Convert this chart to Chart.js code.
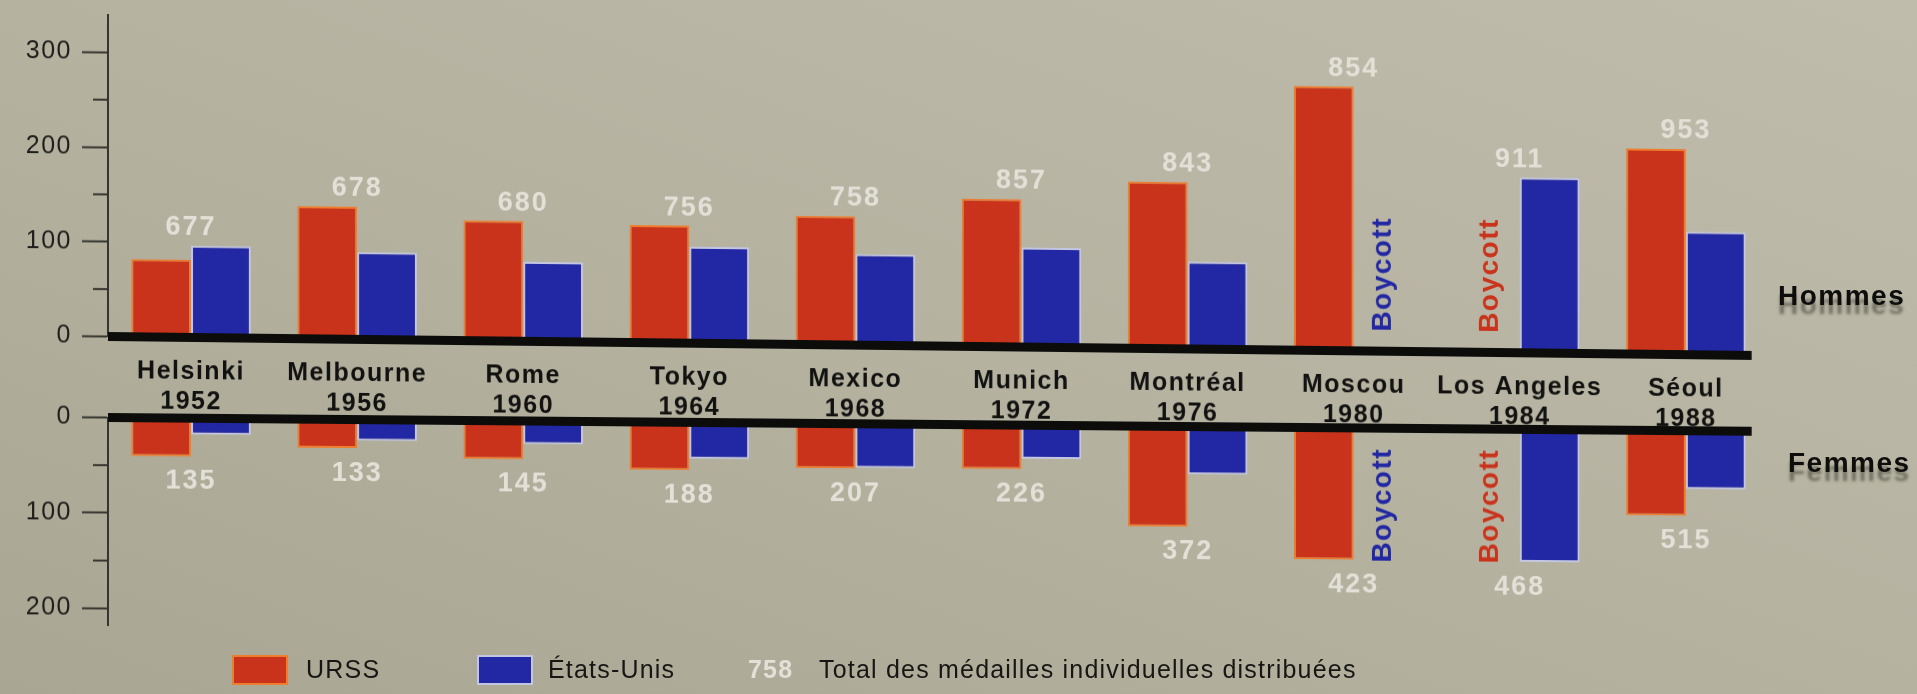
<!DOCTYPE html>
<html lang="fr">
<head>
<meta charset="utf-8">
<title>Médailles individuelles URSS / États-Unis 1952-1988</title>
<script src="https://cdn.jsdelivr.net/npm/chart.js@4.4.1/dist/chart.umd.min.js"></script>
<style>
  html, body { margin: 0; padding: 0; }
  body {
    width: 1917px; height: 694px; overflow: hidden; position: relative;
    background: linear-gradient(to top right, #a9a693 0%, #b4b19f 45%, #bfbcac 100%);
    font-family: 'Liberation Sans', Arial, sans-serif;
  }
  canvas { position: absolute; left: 0; }
  /* la photo est un peu de travers : on penche les lignes de base */
  #hommes { top: 0; transform: skewY(0.66deg); transform-origin: 108px 336.5px; }
  #femmes { top: 400px; transform: skewY(0.48deg); transform-origin: 108px 17.5px; }
  .cote {
    position: absolute; font-weight: bold; font-size: 28px; letter-spacing: 1.5px;
    color: #0d0d0c; line-height: 1; text-shadow: 0 9px 3px rgba(40, 40, 30, .5);
  }
  .case { position: absolute; top: 655px; width: 52px; height: 26px; }
  .txt { position: absolute; top: 654px; line-height: 30px; font-size: 25px; letter-spacing: 1.2px; color: #161613; }
</style>
</head>
<body>
<canvas id="hommes" width="1917" height="430"></canvas>
<canvas id="femmes" width="1917" height="240"></canvas>

<div class="cote" style="left:1778px; top:282px;">Hommes</div>
<div class="cote" style="left:1788px; top:449px;">Femmes</div>

<div class="case" style="left:232px; background:#c9331b; border:2px solid #ee7d2e;"></div>
<div class="txt" style="left:306px;">URSS</div>
<div class="case" style="left:477px; background:#2227a3; border:2px solid #c3c6e2;"></div>
<div class="txt" style="left:548px;">États-Unis</div>
<div class="txt" style="left:748px; color:#e3e0d7; font-weight:bold;">758</div>
<div class="txt" style="left:819px;">Total des médailles individuelles distribuées</div>

<script>
// Jeux olympiques
const villes = ['Helsinki', 'Melbourne', 'Rome', 'Tokyo', 'Mexico', 'Munich', 'Montréal', 'Moscou', 'Los Angeles', 'Séoul'];
const annees = ['1952', '1956', '1960', '1964', '1968', '1972', '1976', '1980', '1984', '1988'];

// médailles gagnées (null = boycott)
const hommesURSS = [82, 140, 127, 124, 136, 156, 176, 279, null, 217];
const hommesUSA  = [97, 92, 84, 102, 96, 105, 92, null, 185, 130];
const femmesURSS = [40, 30, 40, 50, 47, 46, 105, 138, null, 89];
const femmesUSA  = [17, 22, 24, 38, 46, 35, 50, null, 139, 61];

// total des médailles individuelles distribuées
const totalHommes = [677, 678, 680, 756, 758, 857, 843, 854, 911, 953];
const totalFemmes = [135, 133, 145, 188, 207, 226, 372, 423, 468, 515];

const rouge = '#c9331b';
const bleu = '#2227a3';
const police = "'Liberation Sans', Arial, sans-serif";

Chart.defaults.font.family = police;
Chart.defaults.color = '#1e1e1a';

// ligne de base noire, petites graduations, totaux et "Boycott"
const habillage = {
    id: 'habillage',
    beforeDraw(chart) {
        chart.ctx.letterSpacing = '1.5px';
    },
    afterDatasetsDraw(chart, args, opts) {
        const ctx = chart.ctx;
        const x = chart.scales.x, y = chart.scales.y;
        const area = chart.chartArea;
        const y0 = y.getPixelForValue(0);
        const metas = [chart.getDatasetMeta(0), chart.getDatasetMeta(1)];

        ctx.save();
        // graduations intermédiaires
        ctx.strokeStyle = '#35352f';
        ctx.lineWidth = 2;
        y.ticks.forEach(t => {
            if (t.value % 50 !== 0 || t.value % 100 === 0) return;
            const py = y.getPixelForValue(t.value);
            ctx.beginPath();
            ctx.moveTo(area.left - 15, py);
            ctx.lineTo(area.left, py);
            ctx.stroke();
        });

        // ligne de base
        const dernier = metas[1].data[metas[1].data.length - 1];
        ctx.fillStyle = '#0c0c0b';
        ctx.fillRect(area.left, y0 - 4.5, dernier.x + dernier.width / 2 + 6 - area.left, 9);

        // totaux
        ctx.font = 'bold 27px ' + police;
        ctx.letterSpacing = '2px';
        ctx.fillStyle = '#e3e0d7';
        ctx.textAlign = 'center';
        ctx.textBaseline = 'middle';
        opts.totaux.forEach((t, i) => {
            const ys = [];
            chart.data.datasets.forEach((ds, d) => {
                if (ds.data[i] !== null) ys.push(metas[d].data[i].y);
            });
            const bout = opts.bas ? Math.max(...ys) + 25 : Math.min(...ys) - 18;
            ctx.fillText(t, x.getPixelForValue(i), bout);
        });

        // boycott
        ctx.font = 'bold 28px ' + police;
        ctx.letterSpacing = '1.5px';
        chart.data.datasets.forEach((ds, d) => {
            ds.data.forEach((v, i) => {
                if (v !== null) return;
                const autre = metas[1 - d].data[i];
                const px = autre.x + (d === 0 ? -1 : 1) * autre.width;
                ctx.save();
                ctx.translate(px, y0 + (opts.bas ? 77 : -77));
                ctx.rotate(-Math.PI / 2);
                ctx.fillStyle = ds.backgroundColor;
                ctx.fillText('Boycott', 0, 0);
                ctx.restore();
            });
        });
        ctx.restore();
    }
};

function axeY(max, inverse) {
    return {
        min: 0,
        max: max,
        reverse: inverse,
        ticks: {
            stepSize: 50,
            includeBounds: false,
            padding: 10,
            font: { size: 25 },
            color: '#1e1e1a',
            callback: v => (v % 100 === 0 ? v : '')
        },
        grid: {
            drawOnChartArea: false,
            tickLength: 26,
            tickWidth: 2,
            tickColor: c => (c.tick && c.tick.value % 100 === 0 ? '#35352f' : 'rgba(0,0,0,0)')
        },
        border: { color: '#35352f', width: 2 },
        afterFit: s => { s.width = 108; s.paddingTop = 0; s.paddingBottom = 0; }
    };
}

function series(urss, usa) {
    return [
        { label: 'URSS', data: urss, backgroundColor: rouge, borderColor: '#ee7d2e', borderWidth: 2 },
        { label: 'États-Unis', data: usa, backgroundColor: bleu, borderColor: '#c3c6e2', borderWidth: 2 }
    ];
}

const communs = {
    responsive: false,
    maintainAspectRatio: false,
    devicePixelRatio: 1,
    animation: false,
    datasets: { bar: { barPercentage: 1, categoryPercentage: 0.72 } }
};

// Hommes
new Chart(document.getElementById('hommes').getContext('2d'), {
    type: 'bar',
    data: {
        labels: villes.map((v, i) => [v, annees[i]]),
        datasets: series(hommesURSS, hommesUSA)
    },
    options: Object.assign({}, communs, {
        layout: { padding: { top: 14.5, right: 148, bottom: 0, left: 0 } },
        scales: {
            x: {
                offset: true,
                grid: { display: false },
                border: { display: false },
                ticks: {
                    padding: 12,
                    maxRotation: 0,
                    autoSkip: false,
                    color: '#111110',
                    font: { size: 25, weight: 'bold', lineHeight: 1.2 }
                },
                afterFit: s => { s.height = 93.5; s.paddingLeft = 0; s.paddingRight = 0; }
            },
            y: axeY(340, false)
        },
        plugins: {
            legend: { display: false },
            tooltip: { enabled: false },
            habillage: { totaux: totalHommes, bas: false }
        }
    }),
    plugins: [habillage]
});

// Femmes
new Chart(document.getElementById('femmes').getContext('2d'), {
    type: 'bar',
    data: {
        labels: villes,
        datasets: series(femmesURSS, femmesUSA)
    },
    options: Object.assign({}, communs, {
        layout: { padding: { top: 17.5, right: 148, bottom: 14.5, left: 0 } },
        scales: {
            x: { display: false, offset: true },
            y: axeY(218, true)
        },
        plugins: {
            legend: { display: false },
            tooltip: { enabled: false },
            habillage: { totaux: totalFemmes, bas: true }
        }
    }),
    plugins: [habillage]
});
</script>
</body>
</html>
